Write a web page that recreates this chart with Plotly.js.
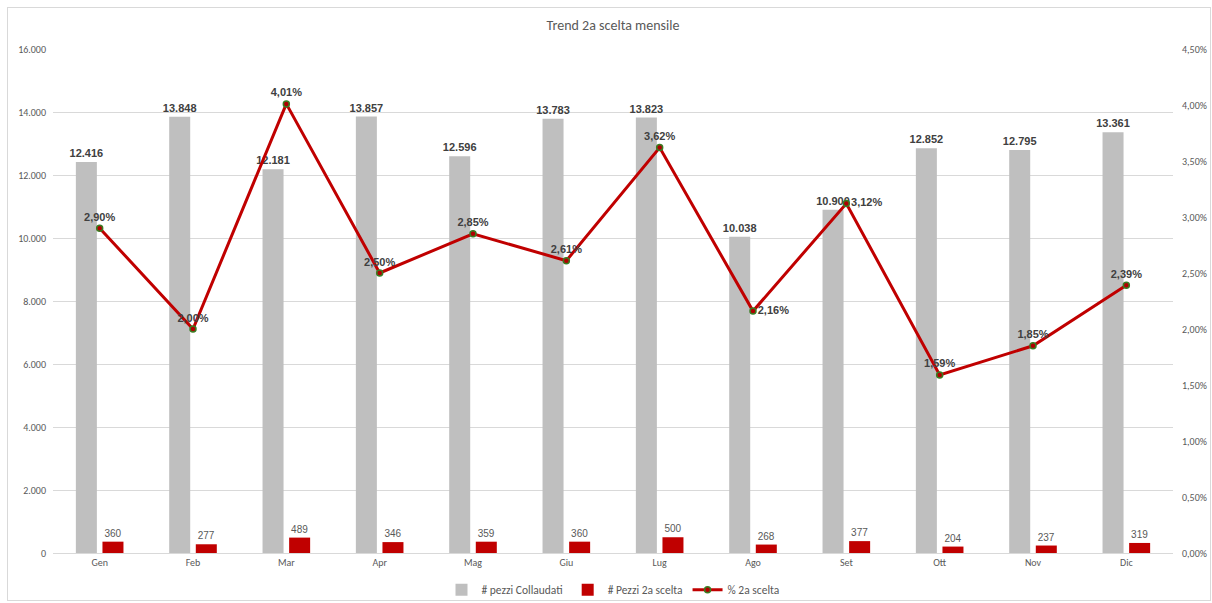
<!DOCTYPE html>
<html>
<head>
<meta charset="utf-8">
<script src="https://cdn.plot.ly/plotly-3.0.1.min.js"></script>
<style>
  body { margin: 0; background: #ffffff; }
  #wrap { position: relative; width: 1212px; height: 603px; }
  #chart { width: 1212px; height: 603px; }
  #frame { position: absolute; left: 7px; top: 7px; width: 1202px; height: 592px; border: 1px solid #d9d9d9; pointer-events: none; }
</style>
</head>
<body>
<div id="wrap"><div id="chart"></div><div id="frame"></div></div>
<script>
const months = ["Gen", "Feb", "Mar", "Apr", "Mag", "Giu", "Lug", "Ago", "Set", "Ott", "Nov", "Dic"];
const pezziCollaudati = [12416, 13848, 12181, 13857, 12596, 13783, 13823, 10038, 10900, 12852, 12795, 13361];
const pezzi2aScelta = [360, 277, 489, 346, 359, 360, 500, 268, 377, 204, 237, 319];
const perc2aScelta = [0.0290, 0.0200, 0.0401, 0.0250, 0.0285, 0.0261, 0.0362, 0.0216, 0.0312, 0.0159, 0.0185, 0.0239];
const percLabelPos = ["top center", "top center", "top center", "top center", "top center", "top center",
                      "top center", "middle right", "middle right", "top center", "top center", "top center"];

function fmtInt(v) {
  return String(Math.round(v)).replace(/\B(?=(\d{3})+(?!\d))/g, ".");
}
function fmtPct(v) {
  return (v * 100).toFixed(2).replace(".", ",") + "%";
}

const font = "Calibri, Carlito, 'Liberation Sans', Arial, sans-serif";
const lblFont = "'Liberation Sans', Arial, sans-serif";

const traces = [
  {
    type: "bar", name: "# pezzi Collaudati", x: months, y: pezziCollaudati,
    marker: { color: "#bfbfbf" },
    text: pezziCollaudati.map(fmtInt), textposition: "outside", cliponaxis: false, constraintext: "none",
    textfont: { family: lblFont, size: 11, color: "#404040", weight: "bold" },
    hoverinfo: "x+y"
  },
  {
    type: "bar", name: "# Pezzi 2a scelta", x: months, y: pezzi2aScelta,
    marker: { color: "#c00000" },
    text: pezzi2aScelta.map(fmtInt), textposition: "outside", cliponaxis: false, constraintext: "none",
    textfont: { family: lblFont, size: 10, color: "#595959" },
    hoverinfo: "x+y"
  },
  {
    type: "scatter", mode: "lines+markers+text", name: "% 2a scelta", x: months, y: perc2aScelta,
    yaxis: "y2",
    line: { color: "#c00000", width: 3 },
    marker: { color: "#b00000", size: 6, line: { color: "#3a7d23", width: 1.5 } },
    text: perc2aScelta.map(fmtPct), textposition: percLabelPos, cliponaxis: false,
    textfont: { family: lblFont, size: 11, color: "#404040", weight: "bold" }
  }
];

const layout = {
  width: 1212, height: 603,
  margin: { l: 53, r: 39, t: 49, b: 50 },
  paper_bgcolor: "#ffffff", plot_bgcolor: "#ffffff",
  separators: ",.",
  barmode: "group", bargap: 0.43, bargroupgap: 0.21,
  showlegend: true,
  title: { text: "Trend 2a scelta mensile", x: 0.5, xref: "paper", xanchor: "center", y: 0.958, yanchor: "middle",
           font: { family: font, size: 14, color: "#595959" } },
  legend: { orientation: "h", x: 0.5, xanchor: "center", xref: "paper", yref: "container", y: 0.022, yanchor: "middle",
            font: { family: font, size: 11.5, color: "#595959" }, traceorder: "normal", itemwidth: 30 },
  xaxis: {
    type: "category", range: [-0.5, 11.5], autorange: false, showgrid: false, showline: true, linecolor: "#d9d9d9", linewidth: 1,
    ticks: "", tickfont: { family: font, size: 10, color: "#595959" }, zeroline: false, automargin: false
  },
  yaxis: {
    range: [0, 16000], autorange: false, dtick: 2000, tickformat: ",.0f", showgrid: true, gridcolor: "#d9d9d9",
    zeroline: false, showline: false, ticks: "", ticklabelstandoff: 6, automargin: false,
    tickfont: { family: font, size: 10, color: "#595959" }
  },
  yaxis2: {
    overlaying: "y", side: "right", range: [0, 0.045], autorange: false, dtick: 0.005, tickformat: ".2%",
    showgrid: false, zeroline: false, showline: false, ticks: "", ticklabelstandoff: 8, automargin: false,
    tickfont: { family: font, size: 10, color: "#595959" }
  },
  font: { family: font, color: "#595959" }
};

Plotly.newPlot("chart", traces, layout, { displayModeBar: false, staticPlot: true });
</script>
</body>
</html>
